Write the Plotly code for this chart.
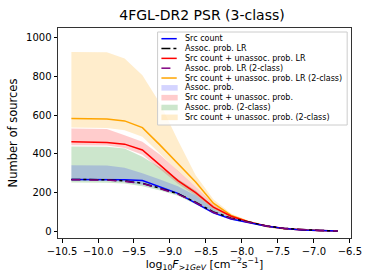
import plotly.graph_objects as go

# ---- data ----
log_flux = [-10.37, -10.123, -9.877, -9.63, -9.383, -9.137, -8.89, -8.643,
            -8.397, -8.15, -7.903, -7.657, -7.41, -7.163, -6.917, -6.67]

src_count = [268, 268, 267, 266, 262, 228, 196, 145, 95, 64, 44, 26, 14, 7, 4, 2]
assoc_lr = [268, 268, 266, 260, 248, 222, 194, 150, 100, 68, 46, 28, 15, 8, 4, 2]
unassoc_lr = [462, 461, 458, 450, 420, 342, 262, 200, 125, 78, 48, 27, 14, 7, 4, 2]
assoc_lr_2c = [266, 266, 265, 258, 246, 220, 192, 148, 98, 66, 45, 27, 15, 8, 4, 2]
unassoc_lr_2c = [582, 581, 580, 570, 535, 445, 348, 255, 145, 82, 48, 25, 13, 7, 4, 2]

assoc_lo = [262, 262, 261, 255, 240, 218, 190, 145, 97, 62, 42, 25, 13, 7, 3, 1]
assoc_hi = [341, 341, 340, 328, 300, 268, 232, 185, 115, 70, 48, 29, 15, 8, 4, 2]
unassoc_lo = [444, 444, 443, 430, 395, 320, 245, 185, 115, 74, 46, 25, 13, 7, 3, 1]
unassoc_hi = [531, 531, 528, 496, 462, 395, 310, 230, 140, 85, 52, 30, 16, 8, 4, 2]
assoc2_lo = [252, 252, 251, 247, 232, 210, 184, 140, 94, 60, 40, 24, 12, 6, 3, 1]
assoc2_hi = [438, 438, 436, 428, 385, 330, 270, 210, 130, 80, 50, 29, 15, 8, 4, 2]
unassoc2_lo = [536, 535, 533, 522, 488, 400, 310, 230, 130, 76, 46, 24, 12, 6, 3, 1]
unassoc2_hi = [926, 926, 925, 892, 806, 660, 470, 290, 165, 92, 55, 30, 16, 8, 4, 2]

x_ticks = [-10.5, -10.0, -9.5, -9.0, -8.5, -8.0, -7.5, -7.0, -6.5]
y_ticks = [0, 200, 400, 600, 800, 1000]

legend_labels = ["Src count", "Assoc. prob. LR", "Src count + unassoc. prob. LR",
                 "Assoc. prob. LR (2-class)", "Src count + unassoc. prob. LR (2-class)",
                 "Assoc. prob.", "Src count + unassoc. prob.",
                 "Assoc. prob. (2-class)", "Src count + unassoc. prob. (2-class)"]

# ---- styles ----
W, H = 374, 280
L, R, T, B = 49, 19, 28, 42
PW, PH = W - L - R, H - T - B

fig = go.Figure()

bands = [
    (unassoc2_lo, unassoc2_hi, "rgba(255,165,0,0.2)"),
    (assoc2_lo, assoc2_hi, "rgba(0,128,0,0.2)"),
    (unassoc_lo, unassoc_hi, "rgba(255,0,0,0.2)"),
    (assoc_lo, assoc_hi, "rgba(0,0,255,0.17)"),
]
for lo, hi, col in bands:
    fig.add_trace(go.Scatter(x=log_flux, y=lo, mode="lines", line=dict(width=0),
                             showlegend=False, hoverinfo="skip"))
    fig.add_trace(go.Scatter(x=log_flux, y=hi, mode="lines", line=dict(width=0),
                             fill="tonexty", fillcolor=col, showlegend=False,
                             hoverinfo="skip"))

lines = [
    (unassoc_lr_2c, "#ffa500", "solid"),
    (unassoc_lr, "#ff0000", "solid"),
    (src_count, "#0000ff", "solid"),
    (assoc_lr, "#000000", "dashdot"),
    (assoc_lr_2c, "#800080", "dash"),
]
for ys, col, dash in lines:
    fig.add_trace(go.Scatter(x=log_flux, y=ys, mode="lines",
                             line=dict(color=col, width=1.5, dash=dash),
                             showlegend=False))


def px2x(px):
    return (px - L) / PW


def py2y(py):
    return (H - B - py) / PH


shapes = []
annotations = []
# legend box
shapes.append(dict(type="rect", xref="paper", yref="paper",
                   x0=px2x(153), x1=px2x(351), y0=py2y(125), y1=py2y(32),
                   line=dict(color="#cccccc", width=1), fillcolor="rgba(255,255,255,0.8)",
                   layer="above"))
leg_styles = [
    ("line", "#0000ff", "solid"),
    ("line", "#000000", "dashdot"),
    ("line", "#ff0000", "solid"),
    ("line", "#800080", "dash"),
    ("line", "#ffa500", "solid"),
    ("patch", "rgba(0,0,255,0.17)", None),
    ("patch", "rgba(255,0,0,0.2)", None),
    ("patch", "rgba(0,128,0,0.2)", None),
    ("patch", "rgba(255,165,0,0.2)", None),
]
y0 = 38.7
dy = 9.83
for i, (lab, (kind, col, dash)) in enumerate(zip(legend_labels, leg_styles)):
    yc = y0 + i * dy
    if kind == "line":
        shapes.append(dict(type="line", xref="paper", yref="paper",
                           x0=px2x(157), x1=px2x(173), y0=py2y(yc), y1=py2y(yc),
                           line=dict(color=col, width=1.5, dash=dash), layer="above"))
    else:
        shapes.append(dict(type="rect", xref="paper", yref="paper",
                           x0=px2x(157), x1=px2x(174), y0=py2y(yc + 2.8), y1=py2y(yc - 2.8),
                           line=dict(width=0), fillcolor=col, layer="above"))
    annotations.append(dict(text=lab, xref="paper", yref="paper", x=px2x(180),
                            y=py2y(yc), xanchor="left", yanchor="middle",
                            showarrow=False, font=dict(size=8.0, color="#000000")))

fig.update_layout(
    width=W, height=H,
    margin=dict(l=L, r=R, t=T, b=B),
    paper_bgcolor="white", plot_bgcolor="white",
    font=dict(family="DejaVu Sans", color="#000000"),
    title=dict(text="4FGL-DR2 PSR (3-class)", x=202 / W, xanchor="center",
               y=1 - 15 / H, yanchor="middle", font=dict(size=14)),
    shapes=shapes, annotations=annotations,
    showlegend=False,
)
fig.update_xaxes(range=[-10.556, -6.484], tickvals=x_ticks, tickformat=".1f",
                 ticks="outside", ticklen=3.5, tickcolor="#000", showgrid=False,
                 zeroline=False, showline=True, linecolor="#333", linewidth=1,
                 mirror=True, tickfont=dict(size=10),
                 title=dict(text="log<sub>10</sub><i>F</i><sub><i>>1GeV</i></sub> [cm<sup>−2</sup>s<sup>−1</sup>]",
                            font=dict(size=11), standoff=3))
fig.update_yaxes(range=[-34.6, 1049.6], tickvals=y_ticks, ticks="outside",
                 ticklen=3.5, tickcolor="#000", showgrid=False, zeroline=False,
                 showline=True, linecolor="#333", linewidth=1, mirror=True,
                 tickfont=dict(size=10),
                 title=dict(text="Number of sources", font=dict(size=11.5), standoff=6))

fig.write_html("out.html", config={"displayModeBar": False},
               post_script="document.body.style.margin='0';")
